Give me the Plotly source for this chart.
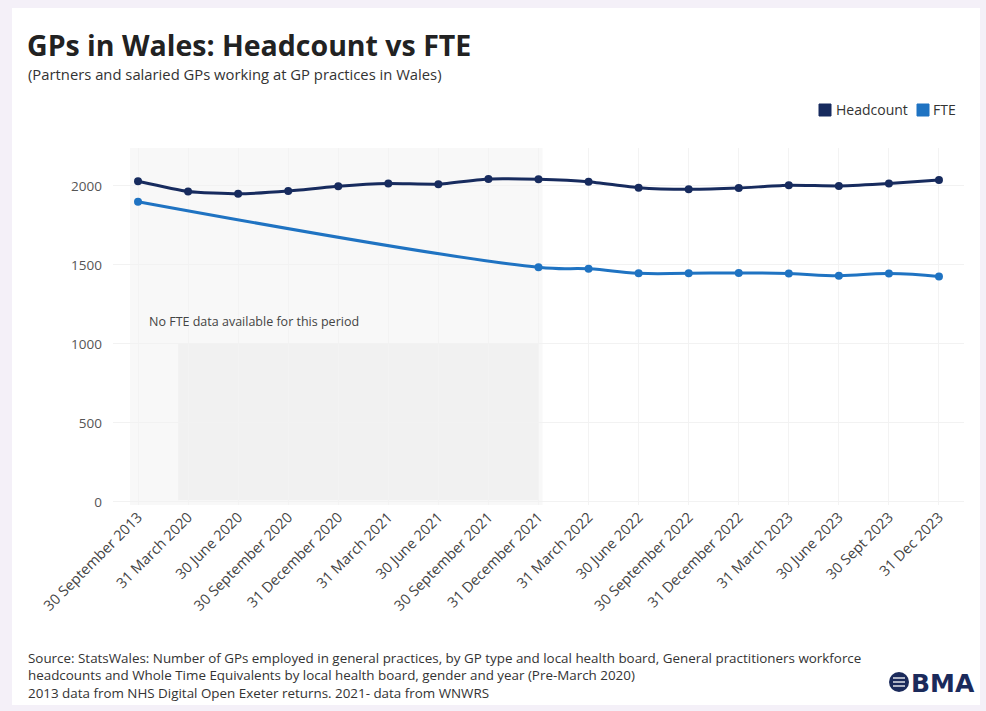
import plotly.graph_objects as go

# ---- data ----
quarters = [
    "30 September 2013", "31 March 2020", "30 June 2020", "30 September 2020",
    "31 December 2020", "31 March 2021", "30 June 2021", "30 September 2021",
    "31 December 2021", "31 March 2022", "30 June 2022", "30 September 2022",
    "31 December 2022", "31 March 2023", "30 June 2023", "30 Sept 2023",
    "31 Dec 2023",
]
headcount = [2030, 1965, 1950, 1968, 1998, 2015, 2011, 2044, 2042,
             2027, 1989, 1979, 1987, 2004, 2000, 2015, 2038]
fte = [1900, None, None, None, None, None, None, None, 1485,
       1475, 1447, 1447, 1449, 1445, 1432, 1445, 1426]
y_ticks = [0, 500, 1000, 1500, 2000]
series_names = ["Headcount", "FTE"]

NAVY = "#172b5e"
BLUE = "#1f73c2"
FONT = "Open Sans, sans-serif"

# plot-area geometry in pixels (used to place decorations in paper coords)
W, H = 986, 711
L, R, T, B = 113, 964, 148, 505


def px(x):
    return (x - L) / (R - L)


def py(y):
    return (B - y) / (B - T)


fig = go.Figure()

fig.add_trace(go.Scatter(
    x=quarters, y=headcount, mode="lines+markers", name=series_names[0],
    line=dict(color=NAVY, width=3, shape="spline", smoothing=0.5),
    marker=dict(color=NAVY, size=8), showlegend=False,
))
fig.add_trace(go.Scatter(
    x=quarters, y=fte, mode="lines+markers", name=series_names[1], connectgaps=True,
    line=dict(color=BLUE, width=3, shape="spline", smoothing=1.3),
    marker=dict(color=BLUE, size=8), showlegend=False,
))

shapes = [
    # card background
    dict(type="rect", xref="paper", yref="paper", layer="below",
         x0=px(12), x1=px(980), y0=py(8), y1=py(705),
         fillcolor="white", line=dict(width=0)),
    # period without FTE data
    dict(type="rect", xref="x", yref="y", layer="below",
         x0=-0.16, x1=8.08, y0=-20, y1=2240,
         fillcolor="#f8f8f8", line=dict(width=0)),
    dict(type="rect", xref="x", yref="y", layer="below",
         x0=0.8, x1=8.0, y0=10, y1=1000,
         fillcolor="#f1f1f1", line=dict(width=0)),
    # BMA emblem
    dict(type="circle", xref="paper", yref="paper",
         x0=px(889), x1=px(909), y0=py(692), y1=py(672),
         fillcolor="#1b2a5b", line=dict(width=0)),
]
for yy in (678, 682, 686):
    shapes.append(dict(type="line", xref="paper", yref="paper",
                       x0=px(893), x1=px(905), y0=py(yy), y1=py(yy),
                       line=dict(color="white", width=1.3)))

annotations = [
    dict(text="<b>GPs in Wales: Headcount vs FTE</b>", xref="paper", yref="paper",
         x=px(25), y=py(45), xanchor="left", yanchor="middle", showarrow=False,
         font=dict(family=FONT, size=28.5, color="#222222")),
    dict(text="(Partners and salaried GPs working at GP practices in Wales)",
         xref="paper", yref="paper", x=px(26), y=py(74), xanchor="left",
         yanchor="middle", showarrow=False,
         font=dict(family=FONT, size=14.8, color="#333333")),
    dict(text="No FTE data available for this period", xref="x", yref="y",
         x=0.18, y=1139, xanchor="left", yanchor="middle", showarrow=False,
         font=dict(family=FONT, size=12.5, color="#444444")),
    dict(text=("Source: StatsWales: Number of GPs employed in general practices, by GP type "
               "and local health board, General practitioners workforce<br>"
               "headcounts and Whole Time Equivalents by local health board, gender and year "
               "(Pre-March 2020)<br>"
               "2013 data from NHS Digital Open Exeter returns. 2021- data from WNWRS"),
         xref="paper", yref="paper", x=px(26), y=py(647), xanchor="left",
         yanchor="top", align="left", showarrow=False,
         font=dict(family=FONT, size=13.4, color="#333333")),
    dict(text="<b>BMA</b>", xref="paper", yref="paper", x=px(909), y=py(683),
         xanchor="left", yanchor="middle", showarrow=False,
         font=dict(family="DejaVu Sans, sans-serif", size=25, color="#1b2a5b")),
]

# legend drawn as swatches + labels
legend_items = [(series_names[0], NAVY, 819, 834), (series_names[1], BLUE, 917, 931)]
for name, col, sx, tx in legend_items:
    shapes.append(dict(type="rect", xref="paper", yref="paper",
                       x0=px(sx), x1=px(sx + 12), y0=py(116), y1=py(104),
                       fillcolor=col, line=dict(color=col, width=1)))
    annotations.append(dict(text=name, xref="paper", yref="paper", x=px(tx),
                            y=py(110), xanchor="left", yanchor="middle",
                            showarrow=False,
                            font=dict(family=FONT, size=14, color="#333333")))

fig.update_layout(
    width=W, height=H,
    margin=dict(l=L, r=W - R, t=T, b=H - B),
    paper_bgcolor="#f4f0f8",
    plot_bgcolor="white",
    font=dict(family=FONT, size=13, color="#444444"),
    shapes=shapes,
    annotations=annotations,
    showlegend=False,
    xaxis=dict(type="category", categoryorder="array", categoryarray=quarters,
               range=[-0.5, len(quarters) - 0.5], tickangle=-45,
               showgrid=True, gridcolor="#f3f3f3", zeroline=False,
               showline=False, ticks="",
               tickfont=dict(family=FONT, size=14.5, color="#444444")),
    yaxis=dict(range=[-20, 2240], tickvals=y_ticks, showgrid=True,
               gridcolor="#f2f2f2", zeroline=False, showline=False,
               ticklabelstandoff=10,
               tickfont=dict(family=FONT, size=13.5, color="#555555")),
)

fig.write_html("out.html")
